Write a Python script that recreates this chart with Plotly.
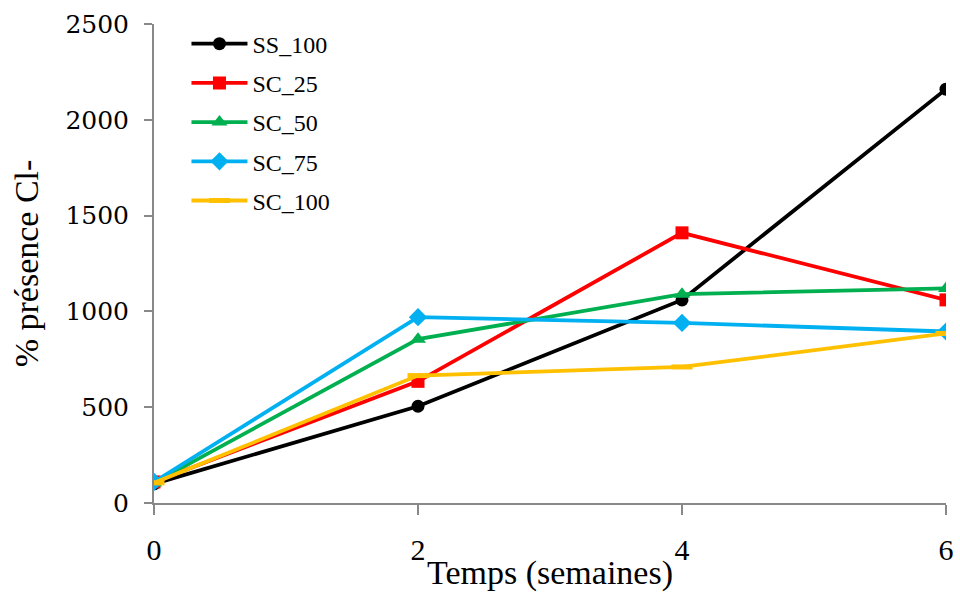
import plotly.graph_objects as go

weeks = [0, 2, 4, 6]
series_names = ["SS_100", "SC_25", "SC_50", "SC_75", "SC_100"]
ss_100 = [100, 505, 1060, 2160]
sc_25 = [110, 635, 1410, 1060]
sc_50 = [105, 855, 1090, 1120]
sc_75 = [110, 970, 940, 895]
sc_100 = [105, 665, 710, 885]
x_tick_labels = ["0", "2", "4", "6"]
y_tick_values = [0, 500, 1000, 1500, 2000, 2500]

values = [ss_100, sc_25, sc_50, sc_75, sc_100]
colors = ["#000000", "#FF0000", "#00B050", "#00B0F0", "#FFC000"]
symbols = ["circle", "square", "triangle-up", "diamond", "line-ew"]
sizes = [13, 13, 14, 14, 15]

FONT = "Liberation Serif"

fig = go.Figure()
for name, vals, col, sym, sz in zip(series_names, values, colors, symbols, sizes):
    marker = dict(symbol=sym, size=sz, color=col)
    if sym == "line-ew":
        marker["line"] = dict(color=col, width=5)
    fig.add_trace(go.Scatter(
        x=weeks, y=vals, name=name, mode="lines+markers",
        line=dict(color=col, width=3.8), marker=marker,
        legendgroup=name,
    ))

fig.update_layout(
    width=960, height=592,
    margin=dict(l=154, r=14, t=24, b=89),
    paper_bgcolor="white", plot_bgcolor="white",
    font=dict(family=FONT, color="#000000"),
    showlegend=True,
    legend=dict(
        x=0.041, y=1.005, xanchor="left", yanchor="top",
        font=dict(family=FONT, size=24),
        tracegroupgap=5, itemwidth=56,
        bgcolor="rgba(0,0,0,0)",
    ),
    xaxis=dict(
        range=[0, 6], tickvals=weeks, ticktext=x_tick_labels,
        automargin=False,
        showgrid=False, zeroline=False, showline=True,
        linecolor="#888888", linewidth=2,
        ticks="outside", ticklen=10, tickwidth=2, tickcolor="#888888",
        tickfont=dict(family=FONT, size=30),
        ticklabelstandoff=9,
        title=dict(text="Temps (semaines)", font=dict(family=FONT, size=34), standoff=13),
    ),
    yaxis=dict(
        range=[0, 2500], tickvals=y_tick_values,
        automargin=False,
        showgrid=False, zeroline=False, showline=True,
        linecolor="#888888", linewidth=2,
        ticks="outside", ticklen=8, tickwidth=2, tickcolor="#888888",
        tickfont=dict(family="DejaVu Serif", size=25),
        ticklabelstandoff=10,
        title=dict(text="% présence Cl-", font=dict(family=FONT, size=34), standoff=16),
    ),
)

fig.write_html("out.html", config={"displayModeBar": False},
               post_script="document.body.style.margin='0';")
